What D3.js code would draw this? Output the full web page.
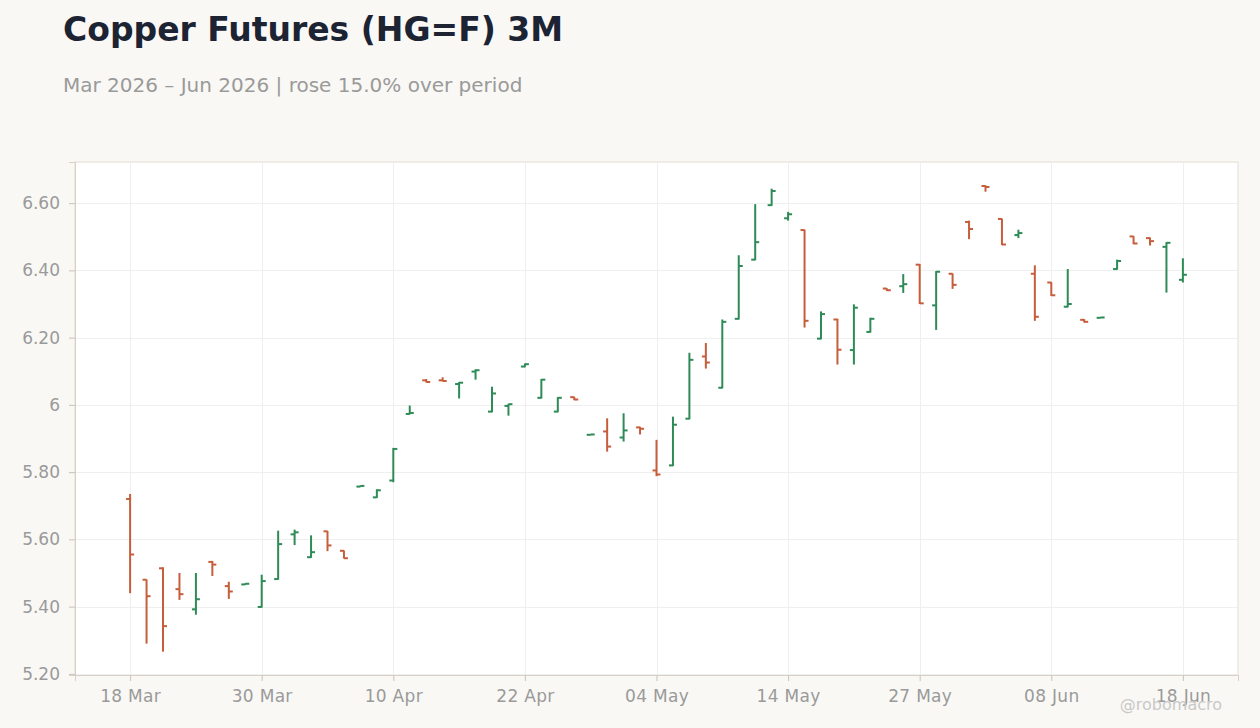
<!DOCTYPE html>
<html>
<head>
<meta charset="utf-8">
<script src="https://d3js.org/d3.v7.min.js"></script>
<style>
  body { margin:0; background:#f9f8f5; }
  svg text { font-family: "DejaVu Sans", sans-serif; }
  .grid line { stroke:#efefef; stroke-width:1; }
  .axis text { fill:#9a9a9a; font-size:17px; }
  .axis line { stroke:#c9c3b9; }
</style>
</head>
<body>
<svg id="chart" width="1260" height="728"></svg>
<script>

// trading days (Good Friday and Memorial Day closed)
var dates = ["2026-03-18","2026-03-19","2026-03-20","2026-03-23","2026-03-24","2026-03-25","2026-03-26","2026-03-27","2026-03-30","2026-03-31",
  "2026-04-01","2026-04-02","2026-04-06","2026-04-07","2026-04-08","2026-04-09","2026-04-10","2026-04-13","2026-04-14","2026-04-15",
  "2026-04-16","2026-04-17","2026-04-20","2026-04-21","2026-04-22","2026-04-23","2026-04-24","2026-04-27","2026-04-28","2026-04-29",
  "2026-04-30","2026-05-01","2026-05-04","2026-05-05","2026-05-06","2026-05-07","2026-05-08","2026-05-11","2026-05-12","2026-05-13",
  "2026-05-14","2026-05-15","2026-05-18","2026-05-19","2026-05-20","2026-05-21","2026-05-22","2026-05-26","2026-05-27","2026-05-28",
  "2026-05-29","2026-06-01","2026-06-02","2026-06-03","2026-06-04","2026-06-05","2026-06-08","2026-06-09","2026-06-10","2026-06-11",
  "2026-06-12","2026-06-15","2026-06-16","2026-06-17","2026-06-18"];

var open = [5.720,5.480,5.514,5.452,5.392,5.533,5.461,5.466,5.399,5.482,
  5.615,5.547,5.624,5.566,5.757,5.725,5.775,5.973,6.073,6.073,
  6.062,6.099,5.980,5.997,6.114,6.021,5.980,6.023,5.911,5.921,
  5.903,5.933,5.805,5.820,5.959,6.144,6.051,6.256,6.432,6.594,
  6.555,6.520,6.197,6.254,6.163,6.217,6.346,6.353,6.417,6.296,
  6.390,6.544,6.651,6.553,6.505,6.390,6.364,6.292,6.253,6.259,
  6.404,6.501,6.496,6.470,6.372];
var high = [5.735,5.481,5.517,5.500,5.500,5.536,5.474,5.469,5.495,5.626,
  5.629,5.612,5.625,5.567,5.760,5.749,5.872,5.998,6.077,6.082,
  6.068,6.106,6.054,6.003,6.123,6.077,6.023,6.024,5.913,5.960,
  5.975,5.935,5.896,5.965,6.155,6.184,6.254,6.445,6.597,6.643,
  6.574,6.521,6.278,6.256,6.299,6.259,6.347,6.389,6.419,6.398,
  6.391,6.548,6.653,6.554,6.521,6.415,6.365,6.404,6.255,6.261,
  6.432,6.502,6.498,6.484,6.436];
var low = [5.440,5.290,5.266,5.420,5.376,5.491,5.423,5.465,5.397,5.480,
  5.583,5.545,5.565,5.543,5.756,5.723,5.770,5.972,6.067,6.070,
  6.019,6.075,5.978,5.968,6.112,6.019,5.978,6.014,5.910,5.861,
  5.891,5.912,5.788,5.818,5.957,6.108,6.049,6.254,6.430,6.592,
  6.548,6.230,6.195,6.120,6.120,6.215,6.339,6.333,6.300,6.223,
  6.345,6.493,6.634,6.475,6.496,6.250,6.324,6.290,6.245,6.258,
  6.402,6.478,6.474,6.334,6.364];
var close = [5.555,5.431,5.342,5.437,5.422,5.525,5.445,5.468,5.476,5.586,
  5.621,5.562,5.582,5.544,5.759,5.746,5.869,5.976,6.068,6.071,
  6.066,6.103,6.034,6.002,6.121,6.075,6.021,6.016,5.912,5.876,
  5.924,5.929,5.793,5.941,6.134,6.126,6.247,6.413,6.484,6.636,
  6.567,6.250,6.270,6.164,6.289,6.256,6.341,6.359,6.302,6.396,
  6.357,6.523,6.648,6.477,6.511,6.262,6.326,6.300,6.247,6.260,
  6.428,6.480,6.487,6.482,6.387];

var xTickEvery = 8;

var up = "#2e8b57", down = "#c65d3b";

var svg = d3.select("#chart");
var m = {left:75, right:1238, top:162, bottom:675};

svg.append("text").attr("x",63).attr("y",41)
  .style("font-size","33px").style("font-weight","bold").style("fill","#1c2333")
  .text("Copper Futures (HG=F) 3M");
svg.append("text").attr("x",63).attr("y",92)
  .style("font-size","20px").style("fill","#9a9a9a")
  .text("Mar 2026 \u2013 Jun 2026 | rose 15.0% over period");

var n = dates.length;
var x = d3.scaleLinear().domain([-3.35, n - 1 + 3.35]).range([m.left, m.right]);
var lo = d3.min(low), hi = d3.max(high), pad = (hi - lo) * 0.05;
var y = d3.scaleLinear().domain([lo - pad, hi + pad]).range([m.bottom, m.top]);

svg.append("rect").attr("x",m.left).attr("y",m.top)
  .attr("width",m.right-m.left).attr("height",m.bottom-m.top)
  .style("fill","#fff").style("stroke","#e3ded6");

var yTicks = d3.range(5.2, 6.61, 0.2);
var xTicks = d3.range(0, n, xTickEvery);
var parse = d3.timeParse("%Y-%m-%d"), fmt = d3.timeFormat("%d %b");

var grid = svg.append("g").attr("class","grid");
grid.selectAll(".h").data(yTicks).enter().append("line")
  .attr("x1",m.left).attr("x2",m.right)
  .attr("y1",function(d){ return Math.round(y(d))+0.5; })
  .attr("y2",function(d){ return Math.round(y(d))+0.5; });
grid.selectAll(".v").data(xTicks).enter().append("line")
  .attr("y1",m.top).attr("y2",m.bottom)
  .attr("x1",function(d){ return Math.round(x(d))+0.5; })
  .attr("x2",function(d){ return Math.round(x(d))+0.5; });

var yAxis = d3.axisLeft(y).tickValues(yTicks).tickSize(6).tickPadding(9)
  .tickFormat(function(d){ return Math.abs(d-6) < 1e-9 ? "6" : d.toFixed(2); });
var gy = svg.append("g").attr("class","axis").attr("transform","translate("+m.left+",0)").call(yAxis);
gy.select(".domain").style("stroke","#d6d0c6");

var xAxis = d3.axisBottom(x).tickValues(xTicks).tickSize(6).tickPadding(9)
  .tickFormat(function(i){ return fmt(parse(dates[i])); });
var gx = svg.append("g").attr("class","axis").attr("transform","translate(0,"+m.bottom+")").call(xAxis);
gx.select(".domain").style("stroke","#d6d0c6");
gx.selectAll("text").style("letter-spacing","0.3px");

var bars = svg.append("g").selectAll("g").data(d3.range(n)).enter().append("g")
  .style("stroke",function(i){ return close[i] >= open[i] ? up : down; })
  .style("stroke-width",2);
bars.append("line")
  .attr("x1",function(i){ return x(i); }).attr("x2",function(i){ return x(i); })
  .attr("y1",function(i){ return y(high[i]); }).attr("y2",function(i){ return y(low[i]); });
bars.append("line")
  .attr("x1",function(i){ return x(i)-4; }).attr("x2",function(i){ return x(i); })
  .attr("y1",function(i){ return y(open[i]); }).attr("y2",function(i){ return y(open[i]); });
bars.append("line")
  .attr("x1",function(i){ return x(i); }).attr("x2",function(i){ return x(i)+4; })
  .attr("y1",function(i){ return y(close[i]); }).attr("y2",function(i){ return y(close[i]); });

svg.append("text").attr("x",1222).attr("y",710).attr("text-anchor","end")
  .style("font-size","16px").style("fill","#c9c9c9")
  .text("@robomacro");

</script>
</body>
</html>
